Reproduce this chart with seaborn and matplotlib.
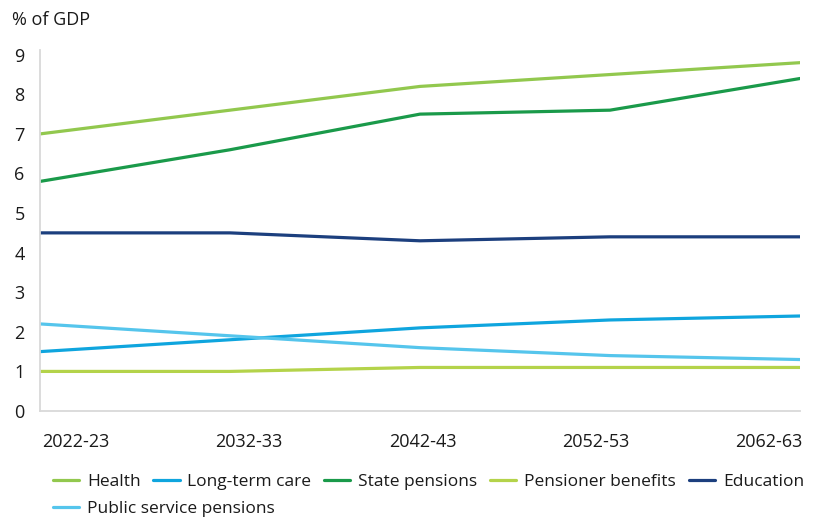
import numpy as np
import pandas as pd
import seaborn as sns
import matplotlib
matplotlib.use("Agg")
import matplotlib.pyplot as plt

years = ["2022-23", "2032-33", "2042-43", "2052-53", "2062-63"]

health = [7.0, 7.6, 8.2, 8.5, 8.8]
long_term_care = [1.5, 1.8, 2.1, 2.3, 2.4]
state_pensions = [5.8, 6.6, 7.5, 7.6, 8.4]
pensioner_benefits = [1.0, 1.0, 1.1, 1.1, 1.1]
education = [4.5, 4.5, 4.3, 4.4, 4.4]
public_service_pensions = [2.2, 1.9, 1.6, 1.4, 1.3]

series_names = ["Health", "Long-term care", "State pensions",
                "Pensioner benefits", "Education", "Public service pensions"]
series_values = [health, long_term_care, state_pensions,
                 pensioner_benefits, education, public_service_pensions]
colors = ["#92C84E", "#0FA5DE", "#1A9A4A", "#B4D34A", "#1C3F7E", "#55C5EC"]

df = pd.DataFrame(
    [(name, i, v) for name, vals in zip(series_names, series_values)
     for i, v in enumerate(vals)],
    columns=["series", "x", "value"],
)

sns.set_theme(style="white")
plt.rcParams["font.family"] = ["Open Sans", "DejaVu Sans"]
text_color = "#1a1a1a"

fig = plt.figure(figsize=(8.2, 5.21), dpi=100)
ax = fig.add_axes([40 / 820, 1 - 411 / 521, 760 / 820, 361 / 521])

sns.lineplot(data=df, x="x", y="value", hue="series", hue_order=series_names,
             palette=dict(zip(series_names, colors)), linewidth=2.3, ax=ax,
             legend=True)

handles, labels = ax.get_legend_handles_labels()
ax.get_legend().remove()

ax.set_xlim(0, 4)
ax.set_ylim(0, 9.12)
ax.set_yticks(range(0, 10))
ax.set_yticklabels([str(v) for v in range(0, 10)])

# category labels spread across the full axis width
label_pos = np.linspace(0.189, 3.837, len(years))
ax.set_xticks(label_pos)
ax.set_xticklabels(years)

ax.tick_params(axis="x", length=0, pad=16, labelsize=13, labelcolor=text_color)
ax.tick_params(axis="y", length=0, pad=11, labelsize=13, labelcolor=text_color)
ax.set_xlabel("")
ax.set_ylabel("")

for side in ["top", "right"]:
    ax.spines[side].set_visible(False)
for side in ["left", "bottom"]:
    ax.spines[side].set_color("#D9D9D9")
    ax.spines[side].set_linewidth(1.3)

fig.text(12 / 820, 1 - 20 / 521, "% of GDP", fontsize=13, color=text_color,
         ha="left", va="center")

legend_kw = dict(frameon=False, fontsize=12.5, handlelength=1.5,
                 handletextpad=0.45, columnspacing=0.75, borderaxespad=0,
                 borderpad=0, labelcolor=text_color)
first = fig.legend(handles[:5], labels[:5], ncol=5,
                   loc="center left", bbox_to_anchor=(53 / 820, 1 - 482 / 521),
                   **legend_kw)
fig.legend(handles[5:], labels[5:], ncol=1,
           loc="center left", bbox_to_anchor=(53 / 820, 1 - 509 / 521),
           **legend_kw)

fig.savefig("out.png", dpi=100)
